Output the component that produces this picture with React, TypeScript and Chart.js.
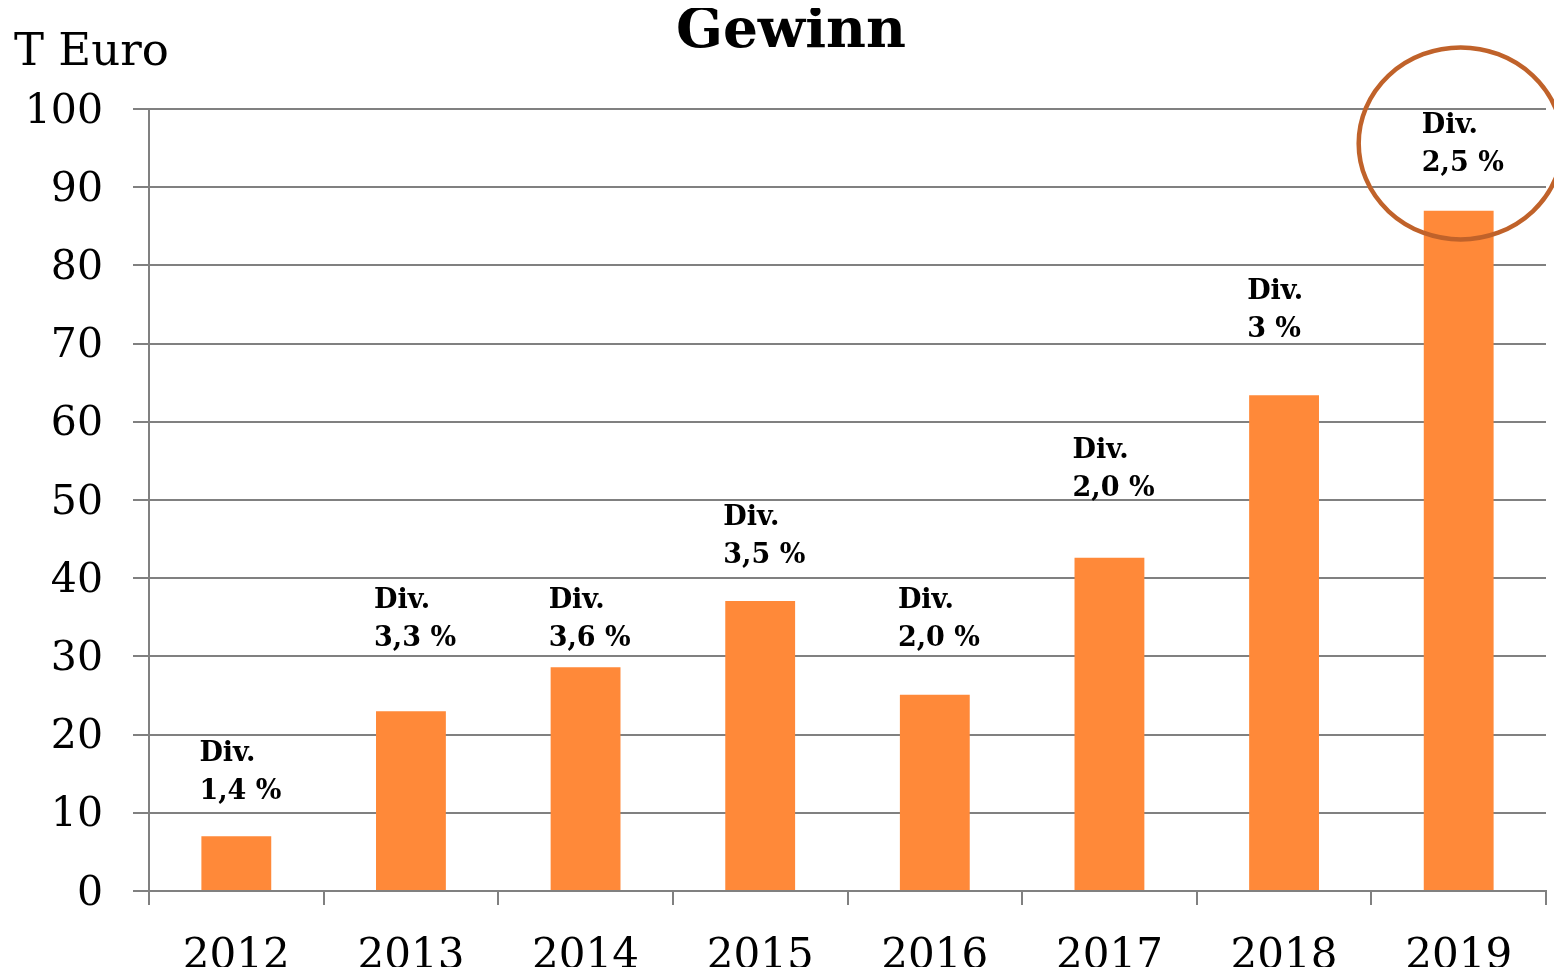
import React, { useEffect, useRef } from "react";
import { Chart, registerables } from "chart.js";

Chart.register(...registerables);

const chartTitle = "Gewinn";
const unitLabel = "T Euro";
const years = ["2012", "2013", "2014", "2015", "2016", "2017", "2018", "2019"];
const profit = [7.0, 23.0, 28.6, 37.1, 25.1, 42.6, 63.4, 87.0];
const divLabels = ["1,4 %", "3,3 %", "3,6 %", "3,5 %", "2,0 %", "2,0 %", "3 %", "2,5 %"];
// value level (in T Euro) of the second label line
const divLabelLevels = [12.8, 32.4, 32.4, 43.0, 32.4, 51.5, 71.9, 93.1];
const highlightIndex = 7;
const highlightCenterValue = 95.6;

const SERIF = "'DejaVu Serif', 'Liberation Serif', serif";
const GRID = "#808080";

const annotations = {
  id: "annotations",
  afterDatasetsDraw(chart: any) {
    const ctx = chart.ctx;
    const meta = chart.getDatasetMeta(0);
    const y = chart.scales.y;
    ctx.save();
    // title
    ctx.fillStyle = "#000";
    ctx.font = `bold 55px ${SERIF}`;
    ctx.textAlign = "center";
    ctx.textBaseline = "middle";
    ctx.fillText(chartTitle, 783, 25);
    // Div labels
    ctx.font = `bold 27px ${SERIF}`;
    ctx.textAlign = "left";
    ctx.textBaseline = "middle";
    meta.data.forEach((bar: any, i: number) => {
      const left = bar.x - bar.width / 2 - 2;
      const ly = y.getPixelForValue(divLabelLevels[i]) + 1;
      ctx.fillText("Div.", left, ly - 38);
      ctx.fillText(divLabels[i], left, ly);
    });
    // highlight ellipse
    const hb = meta.data[highlightIndex];
    const cy = y.getPixelForValue(highlightCenterValue);
    ctx.strokeStyle = "#C0622A";
    ctx.lineWidth = 4.5;
    ctx.beginPath();
    ctx.ellipse(hb.x + 2, cy, 102, 96, 0, 0, Math.PI * 2);
    ctx.stroke();
    // unit label
    ctx.font = `45px ${SERIF}`;
    ctx.textAlign = "left";
    ctx.textBaseline = "middle";
    ctx.fillText(unitLabel, 6, 45);
    ctx.restore();
  },
};

export default function App() {
  const ref = useRef<HTMLCanvasElement>(null);
  useEffect(() => {
    if (!ref.current) return;
    const chart = new Chart(ref.current, {
      type: "bar",
      data: {
        labels: years,
        datasets: [
          {
            label: chartTitle,
            data: profit,
            backgroundColor: "#FF8939",
            borderWidth: 0,
            barPercentage: 0.4,
            categoryPercentage: 1.0,
          },
        ],
      },
      options: {
        animation: false,
        responsive: true,
        maintainAspectRatio: false,
        layout: { padding: { left: 0, right: 8, top: 101, bottom: 0 } },
        plugins: {
          legend: { display: false },
          tooltip: { enabled: false },
          title: { display: false },
        },
        scales: {
          x: {
            grid: {
              drawOnChartArea: false,
              drawTicks: true,
              tickLength: 14,
              color: GRID,
              lineWidth: 2,
              offset: true,
            },
            border: { display: true, color: GRID, width: 2 },
            ticks: {
              color: "#000",
              font: { family: SERIF, size: 42 },
              padding: 27,
            },
            afterFit: (s: any) => {
              s.height = 76;
            },
          },
          y: {
            min: 0,
            max: 100,
            ticks: {
              stepSize: 10,
              color: "#000",
              font: { family: SERIF, size: 41 },
              padding: 30,
              labelOffset: 3,
            },
            grid: {
              color: GRID,
              lineWidth: 2,
              tickLength: 16,
              drawTicks: true,
            },
            border: { display: true, color: GRID, width: 2 },
            afterFit: (s: any) => {
              s.width = 141;
            },
          },
        },
      },
      plugins: [annotations],
    });
    return () => chart.destroy();
  }, []);
  return (
    <div style={{ width: 1546, height: 959, position: "relative" }}>
      <canvas ref={ref} />
    </div>
  );
}
